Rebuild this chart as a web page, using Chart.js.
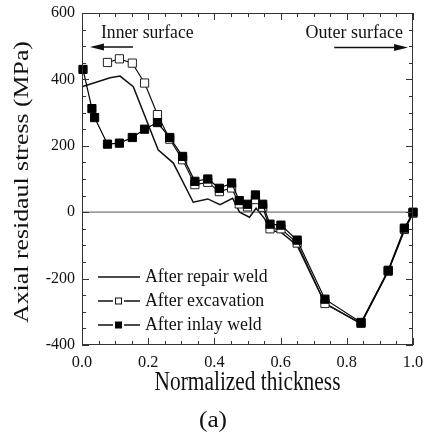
<!DOCTYPE html>
<html>
<head>
<meta charset="utf-8">
<script src="https://cdn.jsdelivr.net/npm/chart.js@4.4.0/dist/chart.umd.min.js"></script>
<style>
html, body { margin: 0; padding: 0; background: #fff; }
#wrap { width: 425px; height: 433px; }
</style>
</head>
<body>
<div id="wrap"><canvas id="chart" width="425" height="433"></canvas></div>
<script>
// series
const seriesNames = ["After repair weld", "After excavation", "After inlay weld"];

const repairX = [0, 0.085, 0.115, 0.155, 0.23, 0.276, 0.336, 0.38, 0.417, 0.455, 0.476, 0.506, 0.526, 0.552, 0.568, 0.601, 0.65, 0.734, 0.843, 0.925, 0.974, 1.0];
const repairY = [378, 405, 410, 378, 188, 148, 30, 40, 23, 42, 0, -15, 12, -20, -55, -60, -100, -275, -336, -178, -55, -3];

const excavX = [0.077, 0.113, 0.152, 0.189, 0.228, 0.265, 0.304, 0.341, 0.38, 0.415, 0.452, 0.475, 0.5, 0.524, 0.546, 0.568, 0.601, 0.65, 0.734, 0.843, 0.925, 0.974, 1.0];
const excavY = [451, 462, 449, 389, 294, 220, 158, 83, 90, 62, 73, 25, 16, 38, 15, -50, -50, -93, -275, -335, -178, -52, -3];

const inlayX = [0.003, 0.03, 0.038, 0.077, 0.113, 0.152, 0.189, 0.228, 0.265, 0.304, 0.341, 0.38, 0.415, 0.452, 0.475, 0.5, 0.524, 0.546, 0.568, 0.601, 0.65, 0.734, 0.843, 0.925, 0.974, 1.0];
const inlayY = [430, 312, 285, 205, 208, 225, 250, 270, 225, 168, 93, 100, 72, 88, 35, 24, 52, 24, -36, -39, -84, -262, -332, -175, -48, 0];

const xTickLabels = [0.0, 0.2, 0.4, 0.6, 0.8, 1.0];
const yTickLabels = [-400, -200, 0, 200, 400, 600];

const xTitle = "Normalized thickness";
const yTitle = "Axial residaul stress (MPa)";
const panelLabel = "(a)";
const innerLabel = "Inner surface";
const outerLabel = "Outer surface";

const SERIF = "'Liberation Serif', 'Times New Roman', serif";

function toPoints(xs, ys) {
    return xs.map((x, i) => ({ x: x, y: ys[i] }));
}

function stretchText(ctx, text, x, y, size, sx, sy, align) {
    ctx.save();
    ctx.translate(x, y);
    ctx.scale(sx, sy);
    ctx.font = size + "px " + SERIF;
    ctx.textAlign = align || "left";
    ctx.textBaseline = "middle";
    ctx.fillText(text, 0, 0);
    ctx.restore();
}

function arrow(ctx, x1, y, x2) {
    const dir = x2 > x1 ? 1 : -1;
    ctx.save();
    ctx.strokeStyle = "#111";
    ctx.fillStyle = "#111";
    ctx.lineWidth = 1.3;
    ctx.beginPath();
    ctx.moveTo(x1, y);
    ctx.lineTo(x2 - dir * 10, y);
    ctx.stroke();
    ctx.beginPath();
    ctx.moveTo(x2, y);
    ctx.lineTo(x2 - dir * 14, y - 3.5);
    ctx.lineTo(x2 - dir * 14, y + 3.5);
    ctx.closePath();
    ctx.fill();
    ctx.restore();
}

const zeroLine = {
    id: "zeroLine",
    beforeDatasetsDraw(chart) {
        const { ctx, chartArea, scales } = chart;
        const y0 = scales.y.getPixelForValue(0);
        ctx.save();
        ctx.strokeStyle = "#777";
        ctx.lineWidth = 1.2;
        ctx.beginPath();
        ctx.moveTo(chartArea.left, y0);
        ctx.lineTo(chartArea.right, y0);
        ctx.stroke();
        ctx.restore();
    }
};

const frameAndDecor = {
    id: "frameAndDecor",
    afterDraw(chart) {
        const { ctx, chartArea, scales } = chart;
        const { left, right, top, bottom } = chartArea;
        const sx = scales.x, sy = scales.y;

        ctx.save();
        ctx.strokeStyle = "#333";
        ctx.lineWidth = 1;
        ctx.strokeRect(left + 0.5, top + 0.5, right - left - 1, bottom - top - 1);

        // inward ticks
        ctx.beginPath();
        for (let i = 0; i <= 20; i++) {
            const v = i * 0.05;
            const px = Math.round(sx.getPixelForValue(v)) + 0.5;
            const len = i % 4 === 0 ? 7 : 4;
            ctx.moveTo(px, bottom);
            ctx.lineTo(px, bottom - len);
            ctx.moveTo(px, top);
            ctx.lineTo(px, top + len);
        }
        for (let i = 0; i <= 20; i++) {
            const v = -400 + i * 50;
            const py = Math.round(sy.getPixelForValue(v)) + 0.5;
            const len = i % 4 === 0 ? 7 : 4;
            ctx.moveTo(left, py);
            ctx.lineTo(left + len, py);
            ctx.moveTo(right, py);
            ctx.lineTo(right - len, py);
        }
        ctx.stroke();
        ctx.restore();

        ctx.save();
        ctx.fillStyle = "#111";
        // tick labels
        xTickLabels.forEach(v => {
            stretchText(ctx, v.toFixed(1), sx.getPixelForValue(v), 363, 16, 1.02, 0.98, "center");
        });
        yTickLabels.forEach(v => {
            stretchText(ctx, String(v), 75, sy.getPixelForValue(v), 16, 1.0, 0.98, "right");
        });

        // axis titles
        stretchText(ctx, xTitle, (left + right) / 2, 383, 23, 0.93, 1.2, "center");
        stretchText(ctx, panelLabel, 213, 421, 22, 1.15, 1.05, "center");
        ctx.save();
        ctx.translate(22, (top + bottom) / 2 + 3);
        ctx.rotate(-Math.PI / 2);
        stretchText(ctx, yTitle, 0, 0, 21, 1.23, 1, "center");
        ctx.restore();

        // surface annotations
        stretchText(ctx, innerLabel, 101, 33.5, 18, 0.98, 1.0, "left");
        stretchText(ctx, outerLabel, 403, 32.5, 18, 1.0, 1.08, "right");
        arrow(ctx, sx.getPixelForValue(0.154), 47, sx.getPixelForValue(0.024));
        arrow(ctx, sx.getPixelForValue(0.762), 47.5, sx.getPixelForValue(0.985));

        // legend
        const rows = [277, 301, 325];
        ctx.strokeStyle = "#111";
        ctx.lineWidth = 1.4;
        rows.forEach((ry, i) => {
            ctx.beginPath();
            if (i === 0) {
                ctx.moveTo(98, ry);
                ctx.lineTo(140, ry);
            } else {
                ctx.moveTo(98, ry);
                ctx.lineTo(113, ry);
                ctx.moveTo(124, ry);
                ctx.lineTo(140, ry);
            }
            ctx.stroke();
            if (i === 1) {
                ctx.fillStyle = "#fff";
                ctx.fillRect(115.5, ry - 3, 6, 6);
                ctx.lineWidth = 1;
                ctx.strokeRect(115.5, ry - 3, 6, 6);
                ctx.lineWidth = 1.4;
            } else if (i === 2) {
                ctx.fillStyle = "#000";
                ctx.fillRect(115, ry - 3.5, 7, 7);
            }
            ctx.fillStyle = "#111";
            stretchText(ctx, seriesNames[i], 145, ry, 18, 0.99, 1.08, "left");
        });
        ctx.restore();
    }
};

const ctx = document.getElementById("chart").getContext("2d");
const chart = new Chart(ctx, {
    type: "line",
    data: {
        datasets: [{
            label: seriesNames[0],
            data: toPoints(repairX, repairY),
            borderColor: "#111",
            borderWidth: 1.5,
            pointRadius: 0,
            fill: false,
            order: 2
        }, {
            label: seriesNames[1],
            data: toPoints(excavX, excavY),
            borderColor: "#111",
            borderWidth: 1.2,
            pointStyle: "rect",
            pointRadius: 5.8,
            pointBorderWidth: 1,
            pointBackgroundColor: "#fff",
            pointBorderColor: "#222",
            fill: false,
            order: 1
        }, {
            label: seriesNames[2],
            data: toPoints(inlayX, inlayY),
            borderColor: "#000",
            borderWidth: 1.2,
            pointStyle: "rect",
            pointRadius: 5.8,
            pointBorderWidth: 1,
            pointBackgroundColor: "#000",
            pointBorderColor: "#000",
            fill: false,
            order: 0
        }]
    },
    options: {
        responsive: false,
        animation: false,
        clip: false,
        layout: { padding: { top: 13, right: 12, left: 0, bottom: 0 } },
        plugins: {
            legend: { display: false },
            tooltip: { enabled: false }
        },
        scales: {
            x: {
                type: "linear",
                min: 0,
                max: 1,
                grid: { display: false, drawTicks: false },
                border: { display: false },
                ticks: { display: false, stepSize: 0.05 },
                afterFit: s => { s.height = 88; }
            },
            y: {
                min: -400,
                max: 600,
                grid: { display: false, drawTicks: false },
                border: { display: false },
                ticks: { display: false, stepSize: 50 },
                afterFit: s => { s.width = 82; }
            }
        }
    },
    plugins: [zeroLine, frameAndDecor]
});
</script>
</body>
</html>
